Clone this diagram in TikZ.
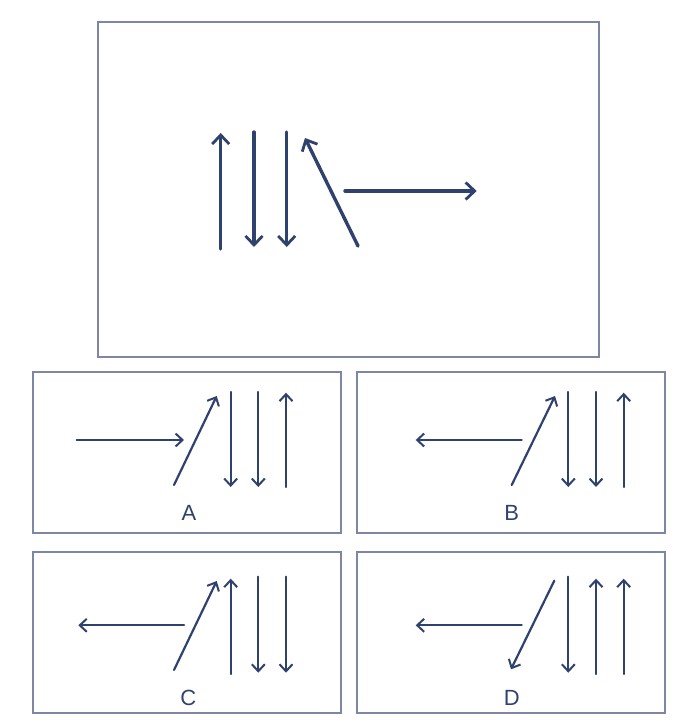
\documentclass[tikz,border=0pt]{standalone}
\usepackage{fontspec}
\setmainfont{Liberation Sans}
\usetikzlibrary{arrows.meta}
\definecolor{navy}{RGB}{47,66,110}
\definecolor{frame}{RGB}{125,135,165}
\tikzset{
  panel/.style={draw=frame, line width=1.2bp},
  bigarr/.style={draw=navy, line width=3.4bp, line cap=round, -{Straight Barb[length=9bp,width=17bp,line width=2.8bp]}},
  smallarr/.style={draw=navy, line width=2.2bp, line cap=round, -{Straight Barb[length=7bp,width=13bp,line width=2bp]}},
  lbl/.style={text=navy, font=\fontsize{22bp}{24bp}\selectfont, inner sep=0pt}
}
\begin{document}
\begin{tikzpicture}[x=1bp,y=-1bp]
\useasboundingbox (0,0) rectangle (680,728);
% frames
\draw[panel] (98,22) rectangle (599,357);
\draw[panel] (33,372) rectangle (341,533);
\draw[panel] (357,372) rectangle (665,533);
\draw[panel] (33,552) rectangle (341,713);
\draw[panel] (357,552) rectangle (665,713);
% top figure
\draw[bigarr] (220.7,249) -- (220.7,133);
\draw[bigarr] (254,132) -- (254,247);
\draw[bigarr] (286.7,132) -- (286.7,247);
\draw[bigarr] (358,246) -- (305,138);
\draw[bigarr] (345,191) -- (476.7,191);
% option A
\draw[smallarr] (76.7,440) -- (184,440);
\draw[smallarr] (174,485) -- (216.7,396);
\draw[smallarr] (230.7,392) -- (230.7,487);
\draw[smallarr] (258.3,392) -- (258.3,487);
\draw[smallarr] (286,487) -- (286,392.7);
\node[lbl] (la) at (189,513) {A};
% option B
\draw[smallarr] (521.7,440) -- (415.7,440);
\draw[smallarr] (511.7,485) -- (555,396);
\draw[smallarr] (568.3,392) -- (568.3,487);
\draw[smallarr] (596,392) -- (596,487);
\draw[smallarr] (623.7,487) -- (623.7,392.7);
\node[lbl] (lb) at (511.7,513) {B};
% option C
\draw[smallarr] (184,625.3) -- (78.3,625.3);
\draw[smallarr] (174,670) -- (216.7,581);
\draw[smallarr] (230.7,674) -- (230.7,578.7);
\draw[smallarr] (258.3,576.7) -- (258.3,672.7);
\draw[smallarr] (286,576.7) -- (286,672.7);
\node[lbl] (lc) at (188.3,697.7) {C};
% option D
\draw[smallarr] (521.7,625.3) -- (415.7,625.3);
\draw[smallarr] (554.3,580.7) -- (511,669.3);
\draw[smallarr] (568.3,576.7) -- (568.3,672.7);
\draw[smallarr] (596,674) -- (596,578.7);
\draw[smallarr] (623.7,674) -- (623.7,578.7);
\node[lbl] (ld) at (511.7,697.7) {D};
\end{tikzpicture}
\end{document}
